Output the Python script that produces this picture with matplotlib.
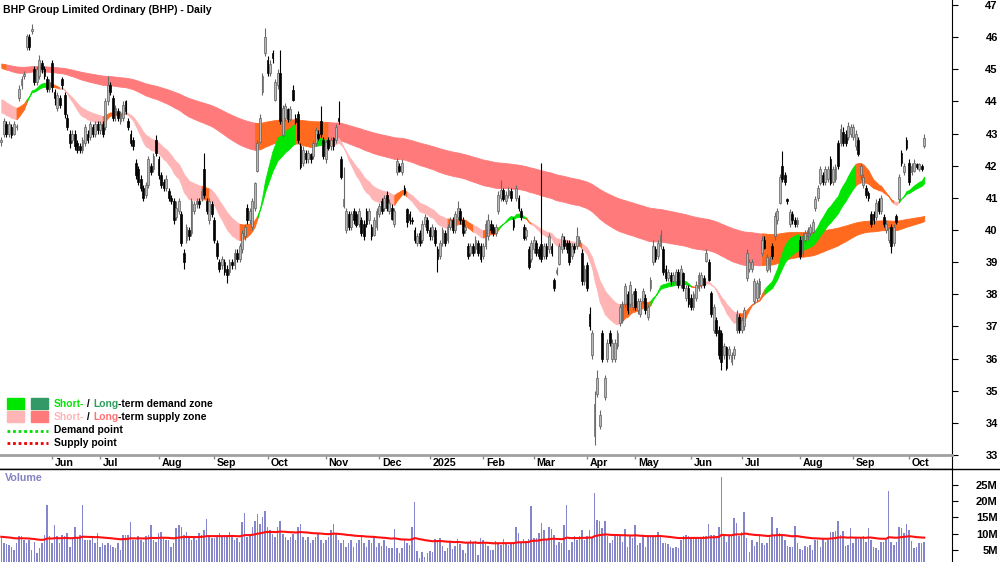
import numpy as np
import pandas as pd
import matplotlib

matplotlib.use("Agg")
import matplotlib.pyplot as plt
from matplotlib.patches import Rectangle
from matplotlib.lines import Line2D

plt.rcParams['font.family'] = ['Liberation Sans', 'DejaVu Sans']

W, H = 1000, 562
FS = 7.4   # label font size

# ASX trading calendar (weekdays minus exchange holidays)
holidays = ['2024-06-10', '2024-12-25', '2024-12-26', '2025-01-01', '2025-01-27',
            '2025-04-18', '2025-04-21', '2025-04-25', '2025-06-09']
dates = pd.bdate_range('2024-05-06', '2025-10-09')
dates = dates[~dates.isin(pd.to_datetime(holidays))]

opens = [
    42.75, 43.0, 43.3, 43.0, 43.2, 43.0, 43.2, 44.1, 44.5, 44.8, 45.7, 46.0, 46.2, 45.0, 44.6, 44.8, 45.2, 45.0, 44.7, 44.4,
    45.2, 44.3, 43.8, 44.1, 44.7, 44.2, 43.5, 43.0, 42.8, 43.0, 42.7, 42.6, 42.5, 42.7, 43.0, 42.9, 43.2, 43.0, 43.3,
    43.1, 43.3, 43.2, 44.0, 44.5, 44.1, 43.6, 43.7, 43.4, 43.5, 44.0, 43.4, 43.0, 42.8, 42.1, 41.9, 41.6, 41.3, 41.1, 41.4, 42.0, 41.9, 42.8,
    42.2, 41.7, 41.5, 41.3, 41.2, 41.0, 40.9, 40.4, 40.6, 40.5, 39.3, 39.7, 40.0, 39.9, 40.6, 40.8, 40.9, 41.0, 41.9, 40.9, 40.3, 40.8,
    40.3, 39.6, 39.0, 38.9, 39.0, 38.8, 38.7, 39.0, 38.9, 39.3, 39.1, 39.4, 39.8, 40.7, 40.3, 40.1, 40.7, 41.85, 42.75, 44.3, 45.5,
    45.3, 44.9, 45.5, 44.05, 44.5, 44.9, 42.95, 43.5, 43.75, 43.45, 44.35, 43.5, 43.6, 42.6, 42.1, 42.4, 42.2, 42.35, 42.3, 42.7, 43.0, 43.4, 42.8,
    42.2, 42.8, 42.6, 42.85, 42.8, 43.5, 42.2, 40.75, 40.0, 40.5, 40.1, 40.6, 40.5, 40.2, 40.3, 40.2, 40.6, 40.3, 40.1, 39.85, 40.1,
    40.5, 40.9, 40.7, 41.1, 40.6, 40.7, 40.2, 41.8, 42.0, 41.8, 41.3, 40.65, 40.5, 40.3, 40.0, 39.6, 39.9, 39.7, 40.2, 40.3,
    40.0, 39.8, 40.0, 39.4, 39.2, 39.6, 39.9, 39.7, 40.1, 40.3, 40.0, 40.4, 40.6, 40.3, 40.0, 39.5, 39.3, 39.5, 39.4, 39.6, 39.5,
    39.2, 39.5, 39.8, 40.2, 40.1, 39.9, 40.6, 41.0, 41.25, 40.9, 41.1, 41.2, 40.3, 41.0, 41.0, 40.6, 40.1, 39.8, 39.4, 39.1,
    39.4, 39.6, 39.4, 39.55, 39.2, 39.5, 39.4, 39.5, 38.45, 38.65, 38.95, 39.4, 39.7, 39.6, 39.6, 39.2, 39.5, 39.5, 39.6, 39.3, 38.4,
    38.9, 37.4, 36.1, 33.6, 34.9, 33.9, 36.8, 34.8, 36.0, 36.8, 36.0, 36.0, 36.4, 37.1, 37.2, 37.7, 38.0, 37.7, 37.6,
    38.1, 37.5, 37.4, 37.8, 37.9, 37.3, 38.2, 39.0, 39.4, 39.2, 39.5, 39.4, 38.8, 38.5, 38.6, 38.4, 38.4, 38.7, 38.3, 38.65, 37.9, 38.2,
    37.9, 37.6, 37.9, 38.2, 38.3, 38.5, 39.05, 39.0, 38.05, 36.9, 37.2, 36.9, 36.8, 36.1, 36.35, 36.1, 35.9, 36.1, 36.9, 37.3,
    36.9, 37.0, 38.5, 38.8, 38.8, 37.8, 37.9, 38.0, 39.3, 39.7, 38.75, 38.8, 39.5, 39.8, 40.3, 40.85, 42.0, 41.7, 40.95, 40.2, 40.5, 40.3, 40.2,
    39.7, 39.3, 39.7, 39.8, 39.9, 39.95, 40.7, 41.0, 41.45, 41.7, 41.5, 41.6, 42.2, 41.5, 41.6, 42.7, 42.7, 43.05, 43.0, 42.9, 43.0,
    42.9, 42.6, 42.8, 41.7, 41.4, 41.3, 41.15, 40.5, 40.5, 40.4, 40.9, 40.6, 40.4, 40.0, 39.7, 40.1, 39.6, 40.45, 40.95, 42.4, 41.8, 42.8,
    42.1, 41.8, 41.85, 42.05, 41.9, 42.0, 42.6,
]
highs = [
    42.9, 43.5, 43.4, 43.4, 43.3, 43.4, 43.3, 44.5, 44.8, 44.95, 46.1, 46.1, 46.4, 45.1, 45.1, 45.45, 45.3, 45.1, 44.8, 44.7,
    45.3, 44.4, 44.3, 44.2, 44.75, 44.3, 43.6, 43.1, 43.1, 43.1, 42.8, 42.7, 42.9, 43.3, 43.1, 43.4, 43.3, 43.4, 43.4,
    43.4, 43.4, 44.1, 44.8, 44.6, 44.2, 43.9, 43.8, 43.7, 44.0, 44.05, 43.5, 43.1, 42.9, 42.2, 42.0, 41.7, 41.4, 41.5, 42.3, 42.1, 42.4, 42.95,
    42.3, 41.8, 41.6, 41.7, 41.3, 41.1, 41.0, 40.9, 41.0, 40.6, 39.4, 40.2, 40.1, 41.0, 40.9, 41.0, 41.0, 41.3, 42.4, 41.0, 41.0, 40.9,
    40.4, 39.7, 39.1, 39.2, 39.1, 38.9, 39.1, 39.1, 39.4, 39.4, 39.6, 40.0, 40.2, 40.8, 40.7, 41.0, 41.5, 42.8, 43.6, 44.9, 46.3,
    45.4, 45.3, 45.6, 44.7, 45.0, 45.6, 43.9, 43.95, 43.8, 43.85, 44.5, 43.6, 43.7, 42.7, 42.6, 42.5, 42.5, 42.4, 42.8, 43.2, 43.1, 43.85, 42.9,
    42.8, 42.9, 42.9, 42.9, 43.3, 44.0, 42.3, 41.95, 40.7, 40.6, 40.6, 40.7, 40.6, 40.7, 40.4, 40.3, 40.7, 40.7, 40.2, 40.4, 40.7,
    40.85, 41.0, 41.1, 41.2, 40.95, 40.8, 40.7, 42.25, 42.1, 42.2, 41.4, 40.7, 40.6, 40.4, 40.1, 39.9, 40.0, 40.3, 40.5, 40.4,
    40.1, 40.2, 40.1, 39.5, 39.7, 40.1, 40.0, 40.2, 40.4, 40.4, 40.6, 40.9, 40.7, 40.4, 40.2, 39.6, 39.6, 39.6, 39.8, 39.7, 39.6,
    39.6, 40.3, 40.5, 40.3, 40.2, 40.2, 41.2, 41.55, 41.3, 41.2, 41.35, 41.3, 40.4, 41.4, 41.1, 40.7, 40.2, 40.1, 39.5, 39.7,
    39.8, 39.7, 39.5, 42.1, 39.6, 39.6, 39.9, 39.6, 38.5, 38.85, 39.6, 39.9, 39.8, 39.7, 39.7, 39.6, 39.6, 40.1, 39.8, 39.4, 38.9,
    39.0, 37.6, 36.9, 35.0, 35.65, 34.4, 36.9, 35.5, 36.6, 36.9, 36.6, 36.6, 36.9, 37.7, 37.8, 38.35, 38.1, 38.4, 38.1,
    38.2, 37.9, 37.9, 38.2, 38.0, 37.7, 38.55, 39.7, 39.5, 39.7, 40.0, 39.5, 38.9, 38.8, 38.7, 38.7, 38.8, 38.8, 38.9, 38.7, 38.3, 38.3,
    38.0, 38.1, 38.4, 38.7, 38.7, 38.6, 39.4, 39.1, 38.1, 37.7, 37.3, 37.0, 36.9, 36.5, 36.4, 36.4, 36.2, 36.4, 37.5, 37.4,
    37.3, 37.6, 39.4, 39.1, 39.1, 38.5, 38.45, 38.5, 39.8, 39.8, 39.25, 39.2, 39.6, 40.55, 40.7, 41.75, 42.45, 41.8, 41.0, 40.65, 40.6, 40.4, 40.4,
    39.8, 39.9, 40.0, 40.1, 40.2, 40.35, 41.05, 41.4, 42.0, 41.8, 42.0, 42.0, 42.3, 42.0, 42.05, 42.8, 43.3, 43.2, 43.1, 43.35, 43.3,
    43.3, 43.1, 42.9, 42.1, 41.75, 41.4, 41.2, 40.6, 40.6, 40.95, 41.0, 41.1, 40.5, 40.3, 40.1, 40.2, 40.2, 40.5, 41.75, 42.5, 42.1, 42.9,
    42.2, 42.1, 42.2, 42.1, 42.1, 42.05, 43.0,
]
lows = [
    42.6, 42.9, 42.9, 42.9, 42.85, 42.95, 43.1, 44.0, 44.4, 44.7, 45.6, 45.6, 46.1, 44.5, 44.5, 44.7, 44.9, 44.7, 44.3, 44.3,
    44.3, 43.9, 43.7, 43.8, 44.4, 43.5, 43.1, 42.55, 42.7, 42.5, 42.4, 42.4, 42.4, 42.6, 42.7, 42.8, 42.9, 42.9, 43.0,
    43.0, 42.9, 43.1, 43.9, 44.2, 43.4, 43.4, 43.4, 43.3, 43.4, 43.6, 43.1, 42.6, 42.5, 41.6, 41.4, 41.2, 40.9, 41.0, 41.3, 41.7, 41.8, 42.3,
    41.6, 41.3, 41.2, 41.2, 40.9, 40.8, 40.2, 40.3, 40.5, 39.5, 38.8, 39.6, 39.7, 39.8, 40.5, 40.7, 40.7, 40.9, 41.0, 40.5, 40.2, 40.4,
    39.6, 39.1, 38.7, 38.8, 38.6, 38.35, 38.6, 38.8, 38.8, 39.0, 39.0, 39.3, 39.7, 40.2, 40.2, 40.0, 40.6, 41.8, 42.7, 44.2, 45.4,
    44.8, 44.8, 45.2, 44.0, 44.4, 43.3, 42.9, 43.4, 43.35, 43.4, 44.0, 43.3, 42.7, 41.9, 42.0, 42.1, 42.1, 42.1, 42.2, 42.6, 42.8, 42.9, 42.2,
    42.1, 42.5, 42.5, 42.5, 42.7, 43.3, 41.6, 40.7, 39.9, 40.0, 40.0, 40.2, 40.1, 40.1, 39.8, 39.7, 40.1, 40.2, 39.7, 39.8, 40.0,
    40.4, 40.5, 40.6, 40.6, 40.5, 40.3, 40.1, 41.7, 41.8, 41.7, 41.1, 40.1, 40.2, 40.2, 39.6, 39.5, 39.5, 39.6, 40.1, 39.9,
    39.7, 39.7, 39.5, 38.7, 39.1, 39.5, 39.5, 39.6, 40.0, 39.9, 39.9, 40.3, 40.2, 39.8, 39.9, 39.1, 39.2, 39.2, 39.3, 39.2, 39.0,
    39.1, 39.4, 39.7, 39.9, 39.8, 39.8, 40.5, 40.9, 40.9, 40.8, 41.0, 40.9, 40.0, 40.9, 40.6, 40.3, 39.7, 39.7, 38.8, 39.0,
    39.3, 39.2, 39.1, 39.0, 39.1, 39.1, 39.3, 39.2, 38.1, 38.6, 38.9, 39.3, 39.4, 39.3, 38.9, 39.1, 39.3, 39.4, 39.5, 38.3, 38.3,
    38.1, 36.9, 36.0, 33.3, 34.8, 33.8, 35.9, 34.7, 35.9, 36.4, 35.9, 35.9, 36.3, 37.0, 37.1, 37.6, 37.4, 37.6, 37.5,
    37.5, 37.4, 37.3, 37.7, 37.4, 37.2, 38.1, 38.9, 39.0, 39.1, 39.4, 38.6, 38.4, 38.4, 38.3, 38.3, 38.3, 38.2, 38.2, 38.1, 37.8, 37.6,
    37.5, 37.5, 37.8, 38.1, 38.2, 38.2, 39.0, 38.4, 37.3, 36.8, 36.7, 36.0, 35.65, 36.0, 35.65, 36.0, 35.8, 36.0, 36.8, 36.8,
    36.8, 36.9, 38.4, 38.7, 38.7, 37.7, 37.8, 37.9, 39.2, 39.4, 38.7, 38.7, 39.1, 39.7, 40.2, 40.8, 41.5, 41.4, 40.8, 40.1, 40.2, 40.1, 40.1,
    39.1, 39.2, 39.6, 39.7, 39.8, 39.9, 40.6, 40.9, 41.4, 41.4, 41.4, 41.5, 41.4, 41.4, 41.5, 41.9, 42.6, 42.6, 42.6, 42.8, 42.9,
    42.8, 42.5, 42.3, 41.6, 41.3, 41.0, 40.9, 40.1, 40.2, 40.3, 40.5, 40.5, 40.1, 39.9, 39.6, 39.3, 39.5, 40.2, 40.9, 42.0, 41.7, 42.5,
    41.4, 41.7, 41.8, 41.9, 41.85, 41.85, 42.55,
]
closes = [
    42.75, 43.4, 43.0, 43.3, 42.95, 43.3, 43.2, 44.4, 44.7, 44.85, 46.05, 45.7, 46.25, 44.6, 45.0, 45.3, 45.0, 44.8, 44.4, 44.6,
    44.45, 44.1, 44.2, 43.9, 44.5, 43.6, 43.2, 42.7, 43.0, 42.6, 42.5, 42.5, 42.8, 43.2, 42.8, 43.3, 43.0, 43.3, 43.1,
    43.3, 43.0, 44.0, 44.5, 44.3, 43.5, 43.8, 43.5, 43.6, 43.9, 43.7, 43.2, 42.7, 42.6, 41.7, 41.5, 41.3, 41.0, 41.4, 42.2, 41.8, 42.3, 42.4,
    41.7, 41.4, 41.3, 41.6, 41.0, 40.9, 40.3, 40.7, 40.9, 39.6, 39.0, 40.1, 39.8, 40.9, 40.8, 40.9, 40.8, 41.2, 41.1, 40.6, 40.9, 40.5,
    39.7, 39.2, 38.8, 39.1, 38.7, 38.6, 39.0, 38.9, 39.3, 39.1, 39.5, 39.9, 40.1, 40.3, 40.6, 40.9, 41.45, 42.7, 43.5, 44.8, 46.0,
    44.9, 45.15, 45.35, 44.6, 44.9, 43.4, 43.8, 43.85, 43.45, 43.75, 44.05, 43.35, 42.8, 41.95, 42.5, 42.2, 42.4, 42.2, 42.7, 43.1, 42.85, 43.0, 42.3,
    42.75, 42.55, 42.8, 42.6, 43.2, 43.4, 41.65, 40.95, 40.6, 40.1, 40.5, 40.3, 40.15, 40.6, 39.9, 39.8, 40.2, 40.6, 39.8, 40.3, 40.6,
    40.75, 40.6, 41.0, 40.7, 40.85, 40.35, 40.6, 42.15, 41.85, 42.1, 41.15, 40.25, 40.3, 40.28, 39.7, 39.8, 39.6, 40.2, 40.4, 40.0,
    39.8, 40.1, 39.6, 39.1, 39.6, 40.0, 39.6, 40.1, 40.3, 40.0, 40.5, 40.7, 40.3, 39.9, 40.1, 39.2, 39.5, 39.3, 39.7, 39.3, 39.1,
    39.5, 40.2, 40.3, 40.0, 39.9, 40.1, 41.1, 41.25, 40.95, 41.1, 41.25, 41.0, 40.1, 41.3, 40.7, 40.4, 39.75, 40.0, 38.85, 39.6,
    39.7, 39.3, 39.2, 39.1, 39.5, 39.2, 39.8, 39.3, 38.2, 38.75, 39.5, 39.8, 39.5, 39.4, 39.0, 39.5, 39.4, 39.8, 39.7, 38.4, 38.8,
    38.2, 37.0, 36.8, 34.6, 35.4, 34.25, 36.0, 35.4, 36.5, 36.5, 36.5, 36.5, 36.8, 37.6, 37.7, 38.25, 37.5, 38.3, 38.0,
    37.6, 37.8, 37.8, 38.1, 37.5, 37.6, 38.45, 39.5, 39.1, 39.6, 39.85, 38.7, 38.5, 38.7, 38.4, 38.6, 38.7, 38.3, 38.8, 38.2, 38.2, 37.7,
    37.6, 38.0, 38.3, 38.6, 38.6, 38.3, 39.3, 38.45, 37.4, 37.6, 36.8, 36.1, 35.9, 36.4, 35.7, 36.3, 36.1, 36.3, 37.4, 36.9,
    37.2, 37.5, 39.3, 39.0, 39.0, 38.4, 38.35, 38.4, 39.7, 39.45, 39.15, 39.1, 39.2, 40.45, 40.6, 41.65, 41.6, 41.5, 40.9, 40.55, 40.3, 40.2, 40.3,
    39.2, 39.8, 39.9, 40.0, 40.1, 40.25, 40.95, 41.3, 41.9, 41.5, 41.9, 41.9, 41.45, 41.9, 41.95, 42.0, 43.15, 42.7, 42.7, 43.25, 43.2,
    43.2, 43.0, 42.35, 42.0, 41.65, 41.1, 41.0, 40.2, 40.3, 40.85, 40.6, 41.0, 40.2, 40.2, 40.05, 39.5, 40.1, 40.25, 41.65, 42.1, 42.0, 42.55,
    41.5, 42.0, 42.1, 41.95, 42.05, 41.9, 42.85,
]
# daily volume, millions of shares
volumes = [
    8.6, 7.0, 6.7, 6.5, 6.0, 4.8, 7.0, 9.2, 9.1, 8.0, 7.0, 8.0, 5.0, 7.5, 4.0, 5.5, 7.0, 9.6, 18.8, 9.1,
    7.0, 12.6, 9.1, 7.0, 9.6, 9.1, 10.1, 6.0, 8.6, 12.1, 8.6, 9.6, 18.8, 8.0, 8.0, 8.0, 9.1, 7.0, 10.1, 6.0,
    7.0, 6.5, 7.0, 6.5, 6.0, 5.5, 7.0, 5.0, 9.6, 9.6, 9.6, 13.6, 8.0, 8.0, 9.1, 8.0, 7.5, 9.1, 9.6, 12.6,
    8.0, 7.5, 10.1, 10.6, 8.6, 8.0, 8.0, 6.0, 7.0, 11.6, 12.6, 12.1, 9.6, 10.6, 9.1, 8.0, 9.1, 8.0, 10.1, 9.6,
    11.1, 14.4, 9.1, 8.6, 8.6, 9.1, 10.1, 9.1, 9.6, 9.1, 10.6, 9.6, 8.0, 8.6, 7.5, 13.6, 16.2,
    9.0, 10.0, 12.0, 14.0, 16.0, 13.0, 15.0, 17.0, 12.0, 11.0, 10.0, 9.0, 12.0, 14.0, 10.0, 9.0, 8.0, 9.0, 10.0, 8.0,
    12.0, 13.0, 9.0, 8.0, 9.0, 7.0, 8.0, 9.0, 10.0, 8.0, 7.0, 8.0, 9.0, 11.0, 13.0, 10.0, 8.0, 7.0, 8.0, 6.0,
    7.0, 8.0, 6.0, 7.0, 8.0, 9.0, 7.0, 6.0, 8.0, 7.0, 9.0, 6.0, 7.0,
    6.2, 8.0, 6.2, 5.5, 5.5, 11.3, 5.5, 4.1, 5.5, 8.0, 7.0, 6.5, 11.9, 19.8, 4.7, 2.6, 4.4, 2.9, 4.1, 4.7,
    4.4, 8.2, 8.0, 8.5, 6.2, 4.7, 5.5, 7.5, 5.1, 6.2, 8.2, 6.8, 4.9, 3.9, 7.5, 8.0, 7.0, 7.7, 3.4,
    8.5, 8.0, 6.8, 6.2, 4.9, 4.9, 7.7, 7.2, 6.5, 8.2, 7.0, 6.5, 7.2, 7.2, 11.9, 10.3, 7.5, 8.2, 7.7, 8.3,
    18.5, 8.5, 8.5, 10.1, 13.2, 11.1, 8.0, 11.9, 11.3, 9.6, 6.5, 7.5, 7.0, 12.6, 18.8, 4.9, 7.5, 9.1, 8.0,
    9.1, 11.1, 8.0, 9.1, 11.1, 8.5, 22.4, 14.2, 14.0, 11.6, 13.7, 9.1, 7.0, 8.0, 9.1, 9.2, 9.1, 7.5, 11.3, 6.0,
    9.6, 8.5, 12.6, 6.5, 7.0, 9.6, 6.0, 9.1, 9.1, 9.1, 9.1, 10.6, 9.1, 7.0, 7.0, 6.8, 6.0, 5.5, 6.0, 5.5,
    8.0, 9.1, 9.6, 9.1, 8.5, 8.5, 8.5, 8.5, 8.5, 9.1, 9.1, 13.0, 9.6, 9.6, 9.1, 12.1, 27.3, 9.2, 7.3,
    9.1, 9.1, 14.7, 13.2, 9.1, 10.6, 16.7, 8.5, 4.4, 8.0, 6.2, 7.5, 9.1, 7.0, 6.5, 7.0, 9.1, 15.0, 9.6, 11.6,
    10.1, 9.1, 8.0, 6.2, 6.0, 5.8, 12.3, 7.2, 5.3, 4.9, 6.2, 6.0, 6.5, 4.9, 8.0, 8.0, 6.0, 8.5, 7.5, 8.0,
    10.6, 10.6, 10.9, 13.9, 9.6, 10.9, 6.2, 6.5, 11.6, 7.0, 8.5, 8.2, 8.5, 9.1, 7.5, 11.6, 8.0, 6.0, 5.5, 4.9,
    7.5, 7.5, 8.0, 23.2, 7.5, 6.5, 7.5, 12.1, 11.6, 10.3, 13.0, 11.1, 7.8, 5.5, 6.0, 7.0, 7.2, 7.5,
]

# zone bands and volume average start values read at the first candle
short_seed = (43.75, 44.15)
long_seed = (45.07, 45.2)
vol_avg_seed = 9.0

ZONE = {'green': '#00e600', 'pink': '#ffb5b5', 'orange': '#ff6a1f', 'red': '#ff7a7a'}
short_colors = [(0, 6, 'pink'), (6, 10, 'orange'), (10, 19, 'green'), (19, 23, 'orange'),
                (23, 40, 'pink'), (40, 49, 'orange'), (49, 79, 'pink'), (79, 82, 'orange'),
                (82, 94, 'pink'), (94, 101, 'orange'), (101, 116, 'green'), (116, 124, 'orange'),
                (124, 129, 'green'), (129, 131, 'orange'), (131, 155, 'pink'), (155, 160, 'orange'),
                (160, 176, 'pink'), (176, 186, 'orange'), (186, 190, 'pink'), (190, 196, 'orange'),
                (196, 207, 'green'), (207, 209, 'orange'), (209, 227, 'pink'), (227, 229, 'orange'),
                (229, 244, 'pink'), (244, 256, 'orange'), (256, 272, 'green'), (272, 276, 'orange'),
                (276, 291, 'pink'), (291, 301, 'orange'), (301, 337, 'green'), (337, 352, 'orange'),
                (352, 354, 'pink'), (354, 364, 'green')]
long_colors = [(0, 2, 'orange'), (2, 100, 'red'), (100, 129, 'orange'), (129, 300, 'red'),
               (300, 364, 'orange')]


def ema(values, period, seed):
    alpha = 2.0 / (period + 1)
    out, e = [], seed
    for v in values:
        e += alpha * (v - e)
        out.append(e)
    return np.array(out)


n = min(len(opens), len(highs), len(lows), len(closes), len(volumes), len(dates))
o = np.array(opens[:n]); h = np.array(highs[:n]); l = np.array(lows[:n]); c = np.array(closes[:n])
vol = np.array(volumes[:n])
d = dates[:n]
x = np.arange(n)

s_fast, s_slow = ema(c, 20, short_seed[0]), ema(c, 33, short_seed[1])
l_fast, l_slow = ema(c, 150, long_seed[0]), ema(c, 250, long_seed[1])

fig = plt.figure(figsize=(W / 100, H / 100), dpi=100)
XL = (-1.3 / 2.5355, (952 - 1.3) / 2.5355)


def px_axes(x0, y0, x1, y1):
    return fig.add_axes([x0 / W, 1 - y1 / H, (x1 - x0) / W, (y1 - y0) / H])


def right_ticks(a, ticks, labels=None):
    a.yaxis.tick_right()
    a.set_yticks(ticks)
    if labels is not None:
        a.set_yticklabels(labels)
    a.tick_params(axis='y', direction='out', length=4, width=0.8, pad=29, labelsize=8)
    for lbl in a.get_yticklabels():
        lbl.set_fontweight('bold')
        lbl.set_horizontalalignment('right')


ax = px_axes(0, 0, 952, 455)
ax.set_xlim(*XL)
ax.set_ylim(33.0, 47.156)
for sp in ['left', 'top', 'bottom']:
    ax.spines[sp].set_visible(False)
ax.spines['right'].set_linewidth(0.8)
ax.set_xticks([])
right_ticks(ax, range(33, 48))


def draw_band(fast, slow, segs, z):
    lo, hi = np.minimum(fast, slow), np.maximum(fast, slow)
    for s, e, col in segs:
        sl = slice(s, min(e, n - 1) + 1)
        ax.fill_between(x[sl], lo[sl], hi[sl], color=ZONE[col], lw=0.6, zorder=z)


draw_band(l_fast, l_slow, long_colors, 1)
draw_band(s_fast, s_slow, short_colors, 2)

up = c >= o
ax.vlines(x, l, h, colors=np.where(up, '#6a6a6a', '#000000'), lw=0.8, zorder=3)
ax.bar(x, np.maximum(np.abs(c - o), 0.04), bottom=np.minimum(o, c), width=0.7,
       color=np.where(up, '#b8b8b8', '#000000'), edgecolor=np.where(up, '#606060', '#000000'),
       lw=0.5, zorder=4)

fig.text(3 / W, 1 - 10 / H, 'BHP Group Limited Ordinary (BHP) - Daily', fontsize=7.5,
         fontweight='bold', va='center', ha='left')

# month strip
axm = px_axes(0, 455, 952, 469)
axm.set_xlim(*XL)
axm.set_ylim(0, 1)
axm.set_xticks([]); axm.set_yticks([])
axm.spines['left'].set_visible(False)
axm.spines['top'].set_color('#a0a0a0'); axm.spines['top'].set_linewidth(2)
axm.spines['bottom'].set_linewidth(1)
axm.spines['right'].set_linewidth(0.8)
month_start = [i for i in range(1, n) if d[i].month != d[i - 1].month]
for i in month_start:
    axm.vlines(i, 0.72, 1.0, color='#8a8a8a', lw=1)
    lab = str(d[i].year) if d[i].month == 1 else d[i].strftime('%b')
    axm.text(i + 1.1, 0.4, lab, fontsize=FS + 0.3, fontweight='bold', va='center', ha='left')

# volume panel
axv = px_axes(0, 469, 952, 562)
axv.set_xlim(*XL)
axv.set_ylim(1.23, 29.85)
for sp in ['left', 'top', 'bottom']:
    axv.spines[sp].set_visible(False)
axv.spines['right'].set_linewidth(0.8)
axv.set_xticks([])
right_ticks(axv, [5, 10, 15, 20, 25], ['5M', '10M', '15M', '20M', '25M'])
axv.bar(x, vol, width=0.6, color='#8585cc', lw=0, zorder=2)
axv.plot(x, ema(vol, 60, vol_avg_seed), color='#ff1010', lw=1.5, zorder=3)
fig.text(5 / W, 1 - 478 / H, 'Volume', fontsize=FS + 0.3, fontweight='bold', color='#8282c2',
         va='center', ha='left')
fig.add_artist(Line2D([0, 1], [1 - 468.5 / H] * 2, color='black', lw=1, transform=fig.transFigure))

# legend
renderer = fig.canvas.get_renderer()


def rich_text(x_px, y_px, parts):
    xx = x_px
    for s, col in parts:
        t = fig.text(xx / W, 1 - y_px / H, s, color=col, fontsize=FS, fontweight='bold',
                     va='center', ha='left')
        xx += t.get_window_extent(renderer=renderer).width


for x0, y0, col in [(7, 398, '#00e600'), (31, 398, '#339966'), (7, 411, '#ffb5b5'), (31, 411, '#ff7a7a')]:
    fig.add_artist(Rectangle((x0 / W, 1 - (y0 + 11) / H), 17 / W, 11 / H, color=col,
                             transform=fig.transFigure))
rich_text(54, 404, [('Short-', '#00e600'), (' / ', 'black'), ('Long', '#2e9e5e'),
                    ('-term demand zone', 'black')])
rich_text(54, 417, [('Short-', '#ffb5b5'), (' / ', 'black'), ('Long', '#ff7070'),
                    ('-term supply zone', 'black')])
fig.add_artist(Line2D([7 / W, 48 / W], [1 - 431 / H] * 2, color='#00dd00', lw=2,
                      ls=(0, (1, 1)), transform=fig.transFigure))
fig.add_artist(Line2D([7 / W, 48 / W], [1 - 443 / H] * 2, color='#ee0000', lw=2,
                      ls=(0, (1, 1)), transform=fig.transFigure))
rich_text(54, 430, [('Demand point', 'black')])
rich_text(54, 443, [('Supply point', 'black')])

fig.savefig('out.png', dpi=100)
